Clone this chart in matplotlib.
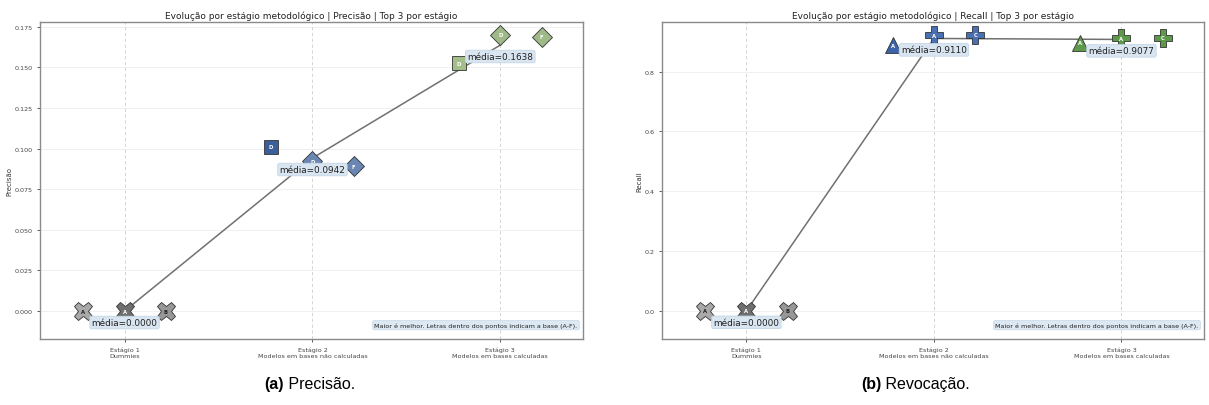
import matplotlib
matplotlib.use("Agg")
import matplotlib.pyplot as plt
import numpy as np

# ---------------- data ----------------
stage_labels = ["Estágio 1\nDummies",
                "Estágio 2\nModelos em bases não calculadas",
                "Estágio 3\nModelos em bases calculadas"]
stage_pos = [1, 2, 3]
point_offsets = [-0.22, 0.0, 0.22]

prec_values = [[0.0, 0.0, 0.0],
               [0.1012, 0.0921, 0.0893],
               [0.1525, 0.1700, 0.1689]]
prec_letters = [["A", "A", "B"], ["D", "D", "F"], ["D", "D", "F"]]
prec_markers = [["X", "X", "X"], ["s", "D", "D"], ["s", "D", "D"]]
prec_colors = [["#a9a9a9", "#6f6f6f", "#979797"],
               ["#3c5f9c", "#6a86b2", "#6a86b2"],
               ["#a3be8b", "#9fba88", "#9fba88"]]
prec_yticks = [0.000, 0.025, 0.050, 0.075, 0.100, 0.125, 0.150, 0.175]

rec_values = [[0.0, 0.0, 0.0],
              [0.889, 0.921, 0.923],
              [0.897, 0.912, 0.914]]
rec_letters = [["A", "A", "B"], ["A", "A", "C"], ["A", "A", "C"]]
rec_markers = [["X", "X", "X"], ["^", "P", "P"], ["^", "P", "P"]]
rec_colors = [["#a9a9a9", "#6f6f6f", "#979797"],
              ["#3a63a8", "#4a70b2", "#4a70b2"],
              ["#5f9a4c", "#5c9a4a", "#5c9a4a"]]
rec_yticks = [0.0, 0.2, 0.4, 0.6, 0.8]

letter_colors = [["#222222", "#ffffff", "#222222"],
                 ["#ffffff", "#ffffff", "#ffffff"],
                 ["#ffffff", "#ffffff", "#ffffff"]]

note_text = "Maior é melhor. Letras dentro dos pontos indicam a base (A-F)."

W, H = 1209, 406
fig = plt.figure(figsize=(W / 100, H / 100), dpi=100)

marker_size = {"s": 10, "D": 10, "X": 13, "P": 13, "^": 12}


def px_axes(x0, y0, x1, y1):
    return fig.add_axes([x0 / W, 1 - y1 / H, (x1 - x0) / W, (y1 - y0) / H])


def draw_panel(ax, values, letters, markers, colors, yticks, ylim, fmt, metric, ylabel):
    ax.set_xlim(0.55, 3.44)
    ax.set_ylim(*ylim)
    ax.set_yticks(yticks)
    ax.set_yticklabels([fmt.format(v) for v in yticks])
    ax.set_xticks(stage_pos)
    ax.set_xticklabels(stage_labels)
    ax.tick_params(labelsize=4.6, length=2, width=0.6, colors="#444444")
    for s in ax.spines.values():
        s.set_color("#8a8a8a")
        s.set_linewidth(1.0)
    for y in yticks:
        ax.axhline(y, color="#eeeeee", lw=0.6, zorder=0)
    for x in stage_pos:
        ax.axvline(x, color="#cfcfcf", lw=0.6, ls=(0, (4, 3)), zorder=0)

    means = [float(np.mean(v)) for v in values]
    ax.plot(stage_pos, means, color="#707070", lw=1.1, zorder=2)

    for i, sp in enumerate(stage_pos):
        for j, off in enumerate(point_offsets):
            m = markers[i][j]
            ax.plot(sp + off, values[i][j], marker=m, ms=marker_size[m], color=colors[i][j],
                    mec="#333333", mew=0.6, ls="none", zorder=3)
            ax.text(sp + off, values[i][j], letters[i][j], ha="center", va="center",
                    fontsize=3.8, fontweight="bold", color=letter_colors[i][j], zorder=4)
        ax.annotate(f"média={means[i]:.4f}", xy=(sp, means[i]), xytext=(0, -5),
                    textcoords="offset points", ha="center", va="top", fontsize=6.4,
                    color="#222222", zorder=5,
                    bbox=dict(boxstyle="round,pad=0.2", fc="#d9e6f1", ec="#c3d6e6", lw=0.6))

    ax.text(0.99, 0.035, note_text, transform=ax.transAxes, ha="right", va="bottom",
            fontsize=4.6, color="#222222",
            bbox=dict(boxstyle="round,pad=0.3", fc="#dce8f2", ec="#c8d9e8", lw=0.5))
    ax.set_title(f"Evolução por estágio metodológico | {metric} | Top 3 por estágio",
                 fontsize=6.5, color="#222222", pad=3)
    ax.set_ylabel(ylabel, fontsize=5, color="#333333", labelpad=1)


ax1 = px_axes(40, 23, 583, 340)
draw_panel(ax1, prec_values, prec_letters, prec_markers, prec_colors, prec_yticks,
           (-0.0172, 0.178), "{:.3f}", "Precisão", "Precisão")

ax2 = px_axes(662, 23, 1204, 340)
draw_panel(ax2, rec_values, rec_letters, rec_markers, rec_colors, rec_yticks,
           (-0.094, 0.966), "{:.1f}", "Recall", "Recall")

# captions
cap_font = ["Liberation Sans", "DejaVu Sans"]
for x0, tag, rest in [(264, "(a)", " Precisão."), (861, "(b)", " Revocação.")]:
    t = fig.text(x0 / W, 1 - 389 / H, tag, fontsize=11.5, fontweight="bold",
                 family=cap_font, ha="left", va="baseline")
    fig.add_artist(matplotlib.text.Annotation(rest, xy=(1, 0), xycoords=t,
                                              fontsize=11.5, family=cap_font,
                                              ha="left", va="bottom"))

fig.savefig("out.png", dpi=100)
